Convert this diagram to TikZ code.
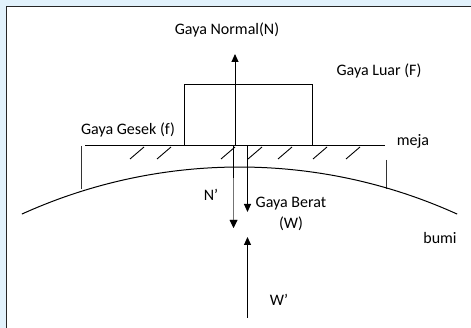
\documentclass[tikz,border=0pt]{standalone}
\usepackage{fontspec}
\setmainfont{Carlito}
\usetikzlibrary{arrows.meta}
\definecolor{bgblue}{HTML}{E2F2FC}
\begin{document}
\begin{tikzpicture}[x=1pt,y=1pt,
  lbl/.style={inner sep=0pt, font=\fontsize{16}{18}\selectfont},
  force/.style={line width=1pt, -{Triangle[width=7pt,length=8pt]}},
  thin line/.style={line width=1pt},
  hatch/.style={line width=0.9pt}]
\useasboundingbox (0,0) rectangle (471,328);
\fill[bgblue] (0,0) rectangle (471,328);
\draw[line width=1.4pt, fill=white, draw=black!85] (6.5,-10) -- (6.5,321.5) -- (480,321.5) -- (480,-10) -- cycle;

% block
\node[draw, line width=1pt, minimum width=128pt, minimum height=61pt, inner sep=0pt] (box) at (248.5,213) {};

% table
\coordinate (tl) at (85,182.5);
\coordinate (tr) at (385,182.5);
\draw[line width=1.2pt] (tl) -- (tr);
\coordinate (lv1) at (81.5,182);
\coordinate (lv2) at (81.5,139);
\coordinate (rv1) at (386,168);
\coordinate (rv2) at (386,139);
\draw[line width=1pt, black!80] (lv1) -- (lv2);
\draw[line width=1pt, black!80] (rv1) -- (rv2);
\foreach \x in {130,157,221,248,278,313,346}
  \draw[hatch] (\x,169) -- (\x+14,181);

% earth
\draw[line width=1pt] (239.5,-365.8) ++(114.4:526.8) arc[start angle=114.4, end angle=65.6, radius=526.8];

% forces
\coordinate (nbase) at (235,182.5);
\coordinate (ntip) at (235,274);
\draw[force] (nbase) -- (ntip);

\coordinate (npbase) at (233.5,182);
\coordinate (npmid) at (233.5,150);
\coordinate (nptip) at (233.5,100);
\draw[line width=1pt] (npbase) -- (npmid);
\draw[force, draw=black!55] (npmid) -- (nptip);
\fill (229.5,108) -- (237.5,108) -- (233.5,100) -- cycle;

\coordinate (wbase) at (247.5,182);
\coordinate (wtip) at (247.5,116);
\draw[force] (wbase) -- (wtip);

\coordinate (wpbase) at (247.5,10);
\coordinate (wptip) at (247.5,91);
\draw[force] (wpbase) -- (wptip);

% labels
\node[lbl] (lN) at (227,298) {Gaya Normal(N)};
\node[lbl] (lF) at (379,257) {Gaya Luar (F)};
\node[lbl] (lf) at (128,198) {Gaya Gesek (f)};
\node[lbl] (lmeja) at (413,187) {meja};
\node[lbl] (lNp) at (211,133) {N’};
\node[lbl] (lW1) at (291,124) {Gaya Berat};
\node[lbl] (lW2) at (291,104) {(W)};
\node[lbl] (lbumi) at (440,90) {bumi};
\node[lbl] (lWp) at (279,28) {W’};
\end{tikzpicture}
\end{document}
